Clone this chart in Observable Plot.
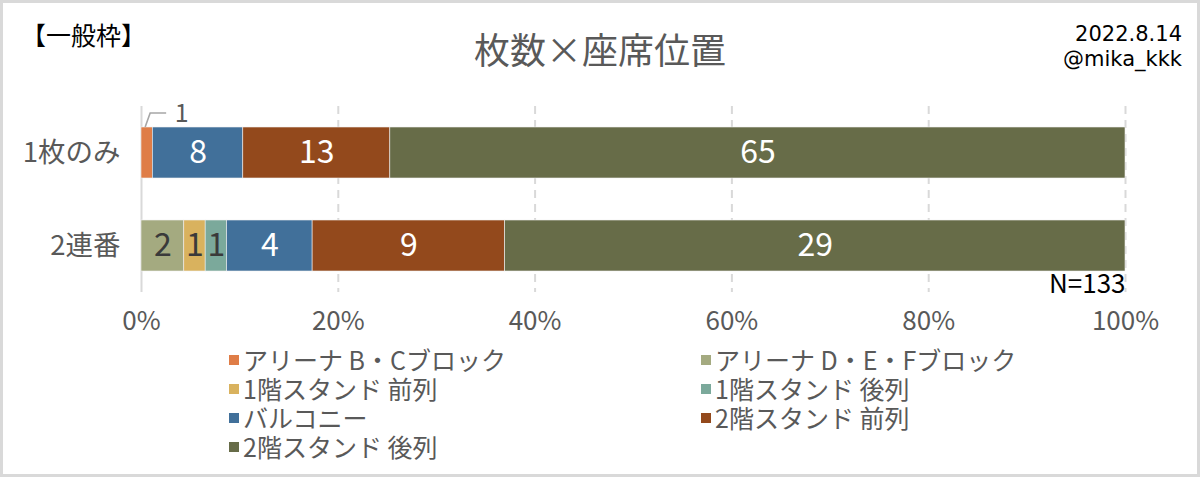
<!DOCTYPE html>
<html>
<head>
<meta charset="utf-8">
<script src="https://cdn.jsdelivr.net/npm/d3@7"></script>
<script src="https://cdn.jsdelivr.net/npm/@observablehq/plot@0.6"></script>
<style>
  html, body { margin: 0; padding: 0; background: #fff; }
  #wrap { position: relative; width: 1200px; height: 477px; overflow: hidden; background: #fff;
          font-family: "Noto Sans CJK JP", "Noto Sans", sans-serif; }
  #frame { position: absolute; left: 0; top: 0; width: 1200px; height: 477px; box-sizing: border-box;
           border: 3px solid #d9d9d9; pointer-events: none; }
  .abs { position: absolute; white-space: nowrap; }
  #tag { left: 21px; top: 18px; font-size: 25px; line-height: 32px; color: #000; font-weight: 400; }
  #title { left: 0; width: 1200px; top: 25px; text-align: center; font-size: 36px; line-height: 46px; color: #595959; }
  .credit { right: 18px; text-align: right; font-family: "DejaVu Sans", sans-serif; font-size: 21px; line-height: 24px; color: #000; }
  #date { top: 22px; }
  #handle { top: 47px; }
  #chart { position: absolute; left: 0; top: 90px; }
  #legend { position: absolute; left: 229px; top: 345px; display: grid; grid-template-columns: 472px auto;
            font-size: 25px; line-height: 29px; color: #595959; }
  .item { display: flex; align-items: center; white-space: nowrap; height: 29px; }
  .sw { width: 10px; height: 10px; margin-right: 4px; flex: none; }
  .lt { display: block; height: 29px; line-height: 29px; overflow: visible; }
</style>
</head>
<body>
<div id="wrap">
  <div id="tag" class="abs">【一般枠】</div>
  <div id="title" class="abs">枚数×座席位置</div>
  <div id="date" class="abs credit">2022.8.14</div>
  <div id="handle" class="abs credit">@mika_kkk</div>
  <div id="chart"></div>
  <div id="legend"></div>
  <div id="frame"></div>
</div>
<script>
// ---- data ----
const rows = ["1枚のみ", "2連番"];
const categories = [
  "アリーナ B・Cブロック",
  "アリーナ D・E・Fブロック",
  "1階スタンド 前列",
  "1階スタンド 後列",
  "バルコニー",
  "2階スタンド 前列",
  "2階スタンド 後列"
];
const colors = ["#df7d47", "#a4aa80", "#d9b25e", "#7ba99b", "#41709a", "#93491c", "#676c48"];
const countsSingle = [1, 0, 0, 0, 8, 13, 65];
const countsPair = [0, 2, 1, 1, 4, 9, 29];
const darkLabelCats = ["アリーナ D・E・Fブロック", "1階スタンド 前列", "1階スタンド 後列"];
const tickValues = [0, 0.2, 0.4, 0.6, 0.8, 1];
const gridTicks = [0.2, 0.4, 0.6, 0.8, 1];
const totalN = "N=133";
// label drawn outside the bar with a leader line
const annotRow = "1枚のみ";
const annotCat = "アリーナ B・Cブロック";

// ---- table ----
const data = [];
categories.forEach((c, i) => {
  data.push({row: rows[0], cat: c, count: countsSingle[i]});
  data.push({row: rows[1], cat: c, count: countsPair[i]});
});
const isAnnot = d => d.row === annotRow && d.cat === annotCat;
const annotCount = countsSingle[categories.indexOf(annotCat)];
const annotFrac = (annotCount / 2) / d3.sum(countsSingle);

const stackOpts = {offset: "normalize", order: categories, x: "count", y: "row", z: "cat"};

function leader(index, scales) {
  const x = scales.x(annotFrac) - 1.5;
  const y = scales.y(annotRow);
  const g = d3.create("svg:g");
  g.append("path")
    .attr("d", `M${x},${y} L${x + 5},${y - 14} L${x + 21},${y - 14}`)
    .attr("fill", "none").attr("stroke", "#a6a6a6").attr("stroke-width", 1.6);
  g.append("text")
    .attr("x", x + 36.5).attr("y", y - 14).attr("dy", "0.35em")
    .attr("text-anchor", "middle").attr("fill", "#595959").attr("font-size", 25)
    .text(String(annotCount));
  return g.node();
}

const chart = Plot.plot({
  width: 1200,
  height: 255,
  marginLeft: 141,
  marginRight: 75,
  marginTop: 16,
  marginBottom: 53,
  style: {fontFamily: "'Noto Sans CJK JP', 'Noto Sans', sans-serif", fontSize: "26px", color: "#595959", background: "transparent", overflow: "visible"},
  x: {domain: [0, 1], ticks: tickValues, tickFormat: d => Math.round(d * 100) + "%", tickSize: 0, tickPadding: 19, label: null},
  y: {domain: rows, paddingInner: 0.45, paddingOuter: 0.225, tickSize: 0, tickPadding: 21, label: null},
  color: {domain: categories, range: colors},
  marks: [
    Plot.ruleX(gridTicks, {stroke: "#d9d9d9", strokeWidth: 2, strokeDasharray: "8,6"}),
    Plot.ruleX([0], {stroke: "#d9d9d9", strokeWidth: 2}),
    Plot.barX(data, Plot.stackX({...stackOpts, fill: "cat", stroke: "#f0f0f0", strokeWidth: 0.6})),
    Plot.text(data, Plot.stackX({...stackOpts,
      text: d => (d.count > 0 && !isAnnot(d) && !darkLabelCats.includes(d.cat)) ? String(d.count) : "",
      fill: "white", fontSize: 32})),
    Plot.text(data, Plot.stackX({...stackOpts,
      text: d => (d.count > 0 && !isAnnot(d) && darkLabelCats.includes(d.cat)) ? String(d.count) : "",
      fill: "#3a3a3a", fontSize: 32})),
    Plot.text([totalN], {text: d => d, frameAnchor: "bottom-right", textAnchor: "end", lineAnchor: "middle", dy: -8, fill: "#000", fontSize: 26}),
    leader
  ]
});
chart.querySelectorAll('g[aria-label^="y-axis"] text').forEach(t => { t.style.fontSize = "27.5px"; });
document.getElementById("chart").appendChild(chart);

// ---- legend ----
const legend = document.getElementById("legend");
categories.forEach((c, i) => {
  const item = document.createElement("div");
  item.className = "item";
  const sw = document.createElement("span");
  sw.className = "sw";
  sw.style.background = colors[i];
  const t = document.createElement("span");
  t.className = "lt";
  t.textContent = c;
  item.appendChild(sw);
  item.appendChild(t);
  legend.appendChild(item);
});
</script>
</body>
</html>
